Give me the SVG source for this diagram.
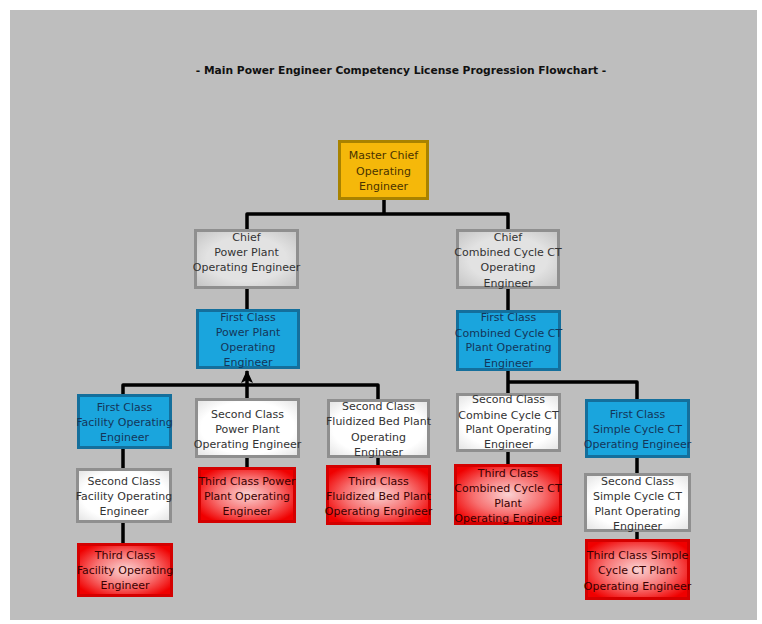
<svg xmlns="http://www.w3.org/2000/svg" width="762" height="624" viewBox="0 0 762 624">
<defs>
<style>
.t{font-family:"DejaVu Sans",Verdana,sans-serif;font-size:11px;text-anchor:middle}
.title{font-family:"DejaVu Sans",Verdana,sans-serif;font-size:10.7px;font-weight:bold;text-anchor:middle;fill:#111}
.gold rect{fill:#F5B80A;stroke:#A88200;stroke-width:3}
.gold text{fill:#4A3300}
.gray rect{fill:url(#gGray);stroke:#8F8F8F;stroke-width:3}
.gray text{fill:#333}
.blue rect{fill:#1AA5DD;stroke:#146F9C;stroke-width:3}
.blue text{fill:#14365A}
.white rect{fill:url(#gWhite);stroke:#8F8F8F;stroke-width:3}
.white text{fill:#333}
.red rect{fill:url(#gRed);stroke:#D40000;stroke-width:3}
.red text{fill:#3A0000}
.conn path{fill:none;stroke:#000;stroke-width:3.5;stroke-linejoin:round}
</style>
<radialGradient id="gRed" cx="0.5" cy="0.5" r="0.6">
<stop offset="0" stop-color="#FAD2D2"/>
<stop offset="0.55" stop-color="#F77070"/>
<stop offset="1" stop-color="#F00000"/>
</radialGradient>
<radialGradient id="gGray" cx="0.5" cy="0.5" r="0.65">
<stop offset="0.6" stop-color="#E2E2E2"/>
<stop offset="1" stop-color="#C8C8C8"/>
</radialGradient>
<radialGradient id="gWhite" cx="0.5" cy="0.5" r="0.65">
<stop offset="0.7" stop-color="#FFFFFF"/>
<stop offset="1" stop-color="#E8E8E8"/>
</radialGradient>
<marker id="arr" viewBox="0 0 13 12" refX="12" refY="6" markerWidth="13" markerHeight="12" markerUnits="userSpaceOnUse" orient="auto">
<path d="M0,0 L13,6 L0,12 L3,6 z" fill="#000"/>
</marker>
</defs>
<rect x="10" y="10" width="747" height="610" fill="#BEBEBE"/>
<text class="title" x="401" y="74">- Main Power Engineer Competency License Progression Flowchart -</text>

<g id="connectors" class="conn">
<path d="M247,229 V214 H508 V229 M384,200 V214"/>
<path d="M247,289 V309"/>
<path d="M508,289 V310"/>
<path d="M123,394 V385 H378 V399"/>
<path d="M247,398 V371" marker-end="url(#arr)"/>
<path d="M123,449 V468 M123,523 V543"/>
<path d="M247,458 V467"/>
<path d="M378,458 V465"/>
<path d="M508,371 V393 M508,382 H637 V399"/>
<path d="M508,452 V464"/>
<path d="M637,458 V473 M637,532 V539"/>
</g>

<g id="master" class="gold">
<rect x="339.5" y="141.5" width="88" height="57"/>
<text class="t" x="383.5" y="159">Master Chief</text>
<text class="t" x="383.5" y="175">Operating</text>
<text class="t" x="383.5" y="190">Engineer</text>
</g>

<g id="chiefPP" class="gray">
<rect x="195.5" y="230.5" width="102" height="57"/>
<text class="t" x="246.5" y="241">Chief</text>
<text class="t" x="246.5" y="256">Power Plant</text>
<text class="t" x="246.5" y="271">Operating Engineer</text>
</g>

<g id="chiefCC" class="gray">
<rect x="457.5" y="230.5" width="101" height="57"/>
<text class="t" x="508" y="241">Chief</text>
<text class="t" x="508" y="256">Combined Cycle CT</text>
<text class="t" x="508" y="271">Operating</text>
<text class="t" x="508" y="287">Engineer</text>
</g>

<g id="fcPP" class="blue">
<rect x="197.5" y="310.5" width="101" height="57"/>
<text class="t" x="248" y="321">First Class</text>
<text class="t" x="248" y="336">Power Plant</text>
<text class="t" x="248" y="351">Operating</text>
<text class="t" x="248" y="366">Engineer</text>
</g>

<g id="fcCC" class="blue">
<rect x="457.5" y="311.5" width="102" height="58"/>
<text class="t" x="508.5" y="321">First Class</text>
<text class="t" x="508.5" y="337">Combined Cycle CT</text>
<text class="t" x="508.5" y="351">Plant Operating</text>
<text class="t" x="508.5" y="367">Engineer</text>
</g>

<g id="fcFac" class="blue">
<rect x="78.5" y="395.5" width="92" height="52"/>
<text class="t" x="124.5" y="411">First Class</text>
<text class="t" x="124.5" y="426">Facility Operating</text>
<text class="t" x="124.5" y="441">Engineer</text>
</g>

<g id="scPP" class="white">
<rect x="196.5" y="399.5" width="102" height="57"/>
<text class="t" x="247.5" y="418">Second Class</text>
<text class="t" x="247.5" y="433">Power Plant</text>
<text class="t" x="247.5" y="448">Operating Engineer</text>
</g>

<g id="scFB" class="white">
<rect x="328.5" y="400.5" width="100" height="56"/>
<text class="t" x="378.5" y="410">Second Class</text>
<text class="t" x="378.5" y="425">Fluidized Bed Plant</text>
<text class="t" x="378.5" y="441">Operating</text>
<text class="t" x="378.5" y="456">Engineer</text>
</g>

<g id="scCC" class="white">
<rect x="457.5" y="394.5" width="102" height="56"/>
<text class="t" x="508.5" y="403">Second Class</text>
<text class="t" x="508.5" y="419">Combine Cycle CT</text>
<text class="t" x="508.5" y="433">Plant Operating</text>
<text class="t" x="508.5" y="448">Engineer</text>
</g>

<g id="fcSC" class="blue">
<rect x="586.5" y="400.5" width="102" height="56"/>
<text class="t" x="637.5" y="418">First Class</text>
<text class="t" x="637.5" y="433">Simple Cycle CT</text>
<text class="t" x="637.5" y="448">Operating Engineer</text>
</g>

<g id="scFac" class="white">
<rect x="77.5" y="469.5" width="93" height="52"/>
<text class="t" x="124" y="485">Second Class</text>
<text class="t" x="124" y="500">Facility Operating</text>
<text class="t" x="124" y="515">Engineer</text>
</g>

<g id="tcFac" class="red">
<rect x="78.5" y="544.5" width="93" height="51"/>
<text class="t" x="125" y="559">Third Class</text>
<text class="t" x="125" y="574">Facility Operating</text>
<text class="t" x="125" y="589">Engineer</text>
</g>

<g id="tcPP" class="red">
<rect x="199.5" y="468.5" width="95" height="53"/>
<text class="t" x="247" y="485">Third Class Power</text>
<text class="t" x="247" y="500">Plant Operating</text>
<text class="t" x="247" y="515">Engineer</text>
</g>

<g id="tcFB" class="red">
<rect x="327.5" y="466.5" width="102" height="57"/>
<text class="t" x="378.5" y="485">Third Class</text>
<text class="t" x="378.5" y="500">Fluidized Bed Plant</text>
<text class="t" x="378.5" y="515">Operating Engineer</text>
</g>

<g id="tcCC" class="red">
<rect x="455.5" y="465.5" width="105" height="58"/>
<text class="t" x="508" y="477">Third Class</text>
<text class="t" x="508" y="492">Combined Cycle CT</text>
<text class="t" x="508" y="507">Plant</text>
<text class="t" x="508" y="522">Operating Engineer</text>
</g>

<g id="scSC" class="white">
<rect x="585.5" y="474.5" width="104" height="56"/>
<text class="t" x="637.5" y="485">Second Class</text>
<text class="t" x="637.5" y="500">Simple Cycle CT</text>
<text class="t" x="637.5" y="515">Plant Operating</text>
<text class="t" x="637.5" y="530">Engineer</text>
</g>

<g id="tcSC" class="red">
<rect x="586.5" y="540.5" width="102" height="58"/>
<text class="t" x="637.5" y="559">Third Class Simple</text>
<text class="t" x="637.5" y="574">Cycle CT Plant</text>
<text class="t" x="637.5" y="590">Operating Engineer</text>
</g>
</svg>
